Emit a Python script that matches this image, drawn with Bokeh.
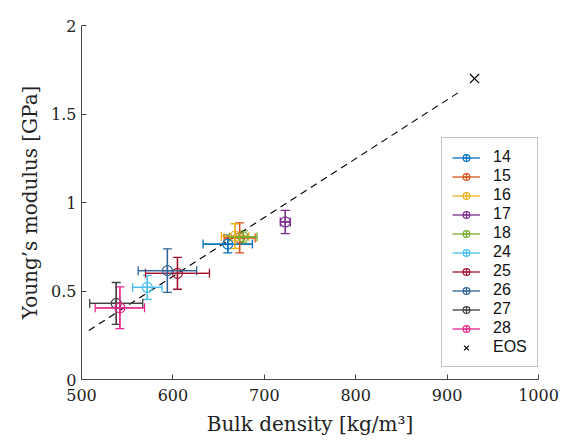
from bokeh.plotting import figure
from bokeh.models import (ColumnDataSource, Whisker, TeeHead, Legend, LegendItem,
                          Range1d, FixedTicker)
from bokeh.embed import file_html
from bokeh.resources import INLINE

# ---- data ----
names = ["14", "15", "16", "17", "18", "24", "25", "26", "27", "28"]
density = [660, 673, 668, 723, 677, 572, 605, 594, 538, 542]
density_err = [27, 17, 15, 5.5, 15, 16, 35, 32, 29, 27]
modulus = [0.765, 0.80, 0.81, 0.89, 0.805, 0.52, 0.60, 0.615, 0.43, 0.405]
modulus_err = [0.05, 0.085, 0.07, 0.066, 0.035, 0.068, 0.09, 0.123, 0.118, 0.118]
colors = ["#0072BD", "#D95319", "#EDB120", "#7E2F8E", "#77AC30",
          "#4DBEEE", "#A2142F", "#2F6496", "#404040", "#E6288C"]

eos_density = [930]
eos_modulus = [1.70]

fit_density = [508, 912]
fit_modulus = [0.277, 1.620]

x_ticks = [500, 600, 700, 800, 900, 1000]
y_ticks = [0, 0.5, 1, 1.5, 2]

serif = "DejaVu Serif"
sans = "Liberation Sans"

p = figure(width=563, height=442, output_backend="svg", toolbar_location=None,
           x_range=Range1d(500, 1000), y_range=Range1d(0, 2),
           min_border_left=81, min_border_right=25, min_border_top=25,
           min_border_bottom=63)
p.outline_line_color = None
p.xgrid.visible = False
p.ygrid.visible = False
p.background_fill_color = "white"

for ax in (p.xaxis[0], p.yaxis[0]):
    ax.major_tick_in = 5
    ax.major_tick_out = 0
    ax.minor_tick_line_color = None
    ax.axis_line_color = "#444444"
    ax.major_tick_line_color = "#444444"
    ax.major_label_text_font = serif
    ax.major_label_text_font_size = "16px"
    ax.major_label_text_color = "#222222"
    ax.axis_label_text_font = serif
    ax.axis_label_text_font_size = "20px"
    ax.axis_label_text_font_style = "normal"
    ax.axis_label_text_color = "#222222"

p.xaxis[0].ticker = FixedTicker(ticks=x_ticks)
p.yaxis[0].ticker = FixedTicker(ticks=y_ticks)
p.yaxis[0].major_label_overrides = {0: "0", 0.5: "0.5", 1: "1", 1.5: "1.5", 2: "2"}
p.xaxis[0].axis_label = "Bulk density [kg/m³]"
p.yaxis[0].axis_label = "Young’s modulus [GPa]"
p.xaxis[0].major_label_standoff = 9
p.yaxis[0].major_label_standoff = 5
p.xaxis[0].axis_label_standoff = 8
p.yaxis[0].axis_label_standoff = 6

# fit line
p.line(fit_density, fit_modulus, line_color="black", line_dash="7 5", line_width=1.1)

items = []
for i, name in enumerate(names):
    x = density[i]
    y = modulus[i]
    xe = density_err[i]
    ye = modulus_err[i]
    c = colors[i]
    src = ColumnDataSource(dict(x=[x], y=[y], xl=[x - xe], xu=[x + xe],
                                yl=[y - ye], yu=[y + ye]))
    rh = p.segment(x0="xl", y0="y", x1="xu", y1="y", source=src,
                   line_color=c, line_width=1.3)
    rv = p.segment(x0="x", y0="yl", x1="x", y1="yu", source=src,
                   line_color=c, line_width=1.3)
    wh = Whisker(base="y", lower="xl", upper="xu", dimension="width", source=src,
                 line_color=c, line_width=1.3,
                 upper_head=TeeHead(size=9, line_color=c, line_width=1.3),
                 lower_head=TeeHead(size=9, line_color=c, line_width=1.3))
    wv = Whisker(base="x", lower="yl", upper="yu", dimension="height", source=src,
                 line_color=c, line_width=1.3,
                 upper_head=TeeHead(size=9, line_color=c, line_width=1.3),
                 lower_head=TeeHead(size=9, line_color=c, line_width=1.3))
    p.add_layout(wh)
    p.add_layout(wv)
    rc = p.scatter(x="x", y="y", source=src, marker="circle_cross", size=10,
                   fill_color=None, line_color=c, line_width=1.2)
    items.append(LegendItem(label=name, renderers=[rh, rc]))

re = p.scatter(eos_density, eos_modulus, marker="x", size=13, line_color="black",
               line_width=1.2)
items.append(LegendItem(label="EOS", renderers=[re]))

legend = Legend(items=items, location=(360, 12), padding=10, margin=0,
                glyph_width=28, glyph_height=17, spacing=1, label_standoff=13,
                label_width=34, label_height=17,
                label_text_font=sans, label_text_font_size="16px",
                label_text_color="#111111",
                border_line_color="#888888", border_line_width=1,
                background_fill_color="white", background_fill_alpha=1)
p.add_layout(legend)

open("out.html", "w").write(file_html(p, INLINE))
